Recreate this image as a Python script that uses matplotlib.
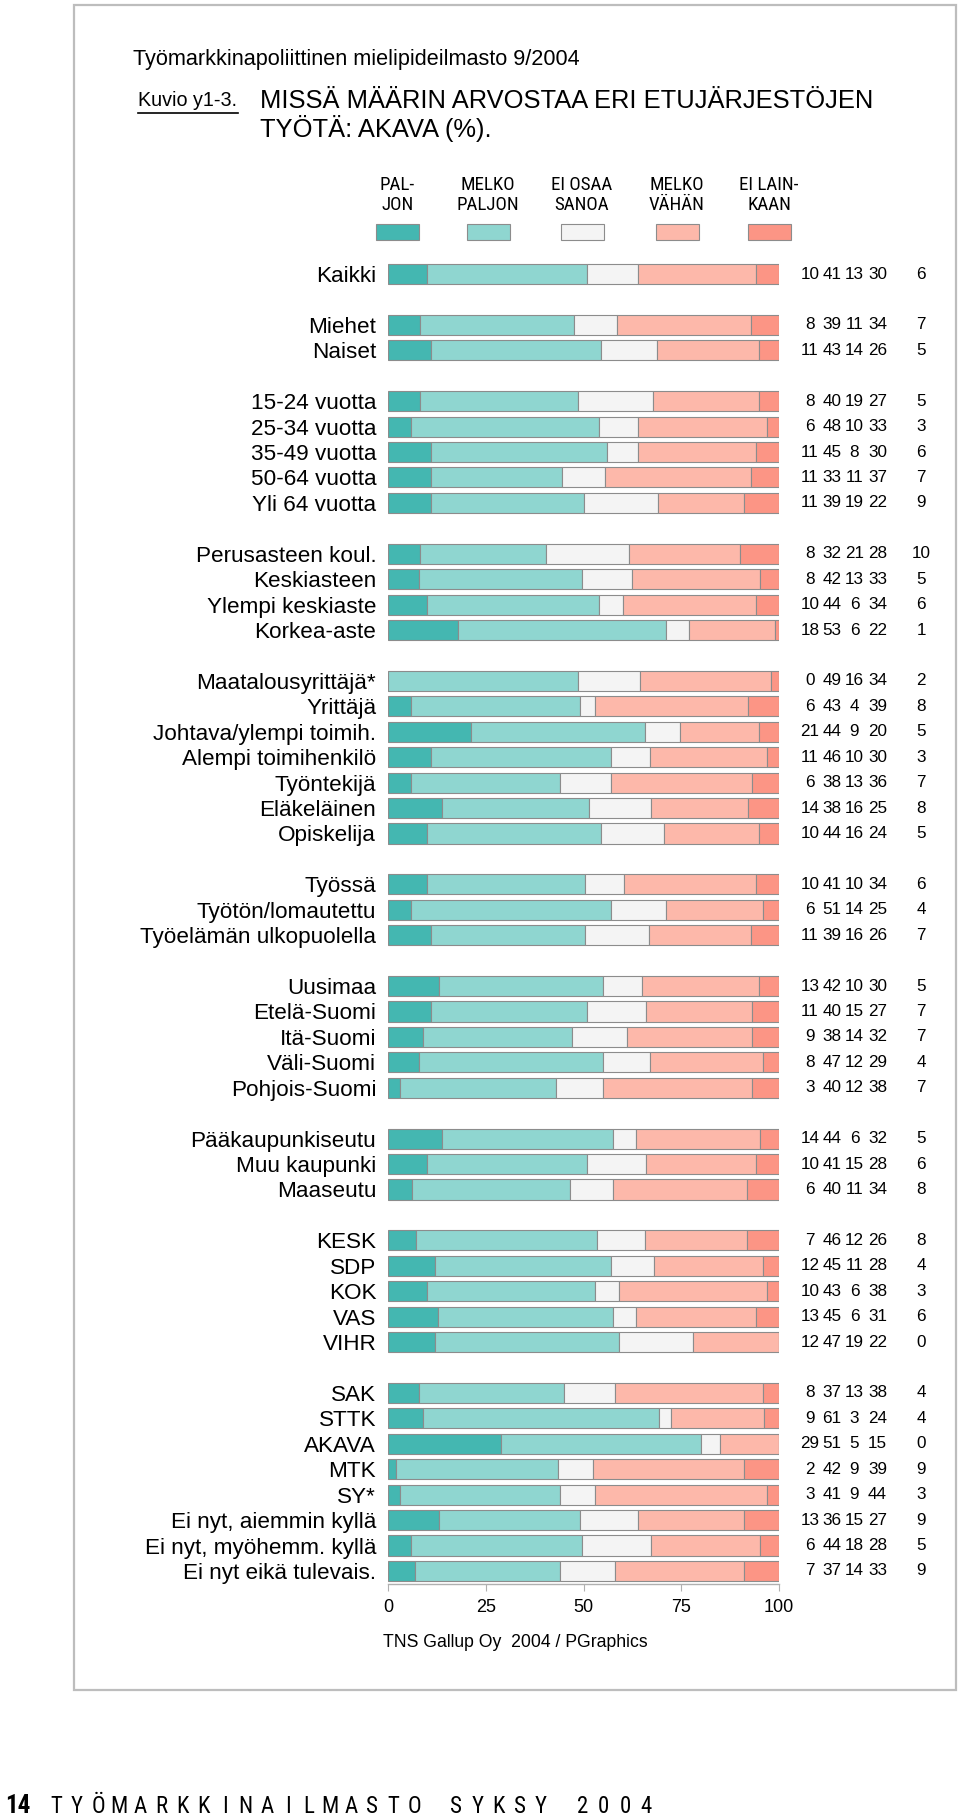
import matplotlib
matplotlib.use('Agg')
import matplotlib.pyplot as plt
from matplotlib import font_manager
from matplotlib.patches import Rectangle
from matplotlib.lines import Line2D
import numpy as np

# ---------------- data ----------------
labels = ["Kaikki",
          "Miehet", "Naiset",
          "15-24 vuotta", "25-34 vuotta", "35-49 vuotta", "50-64 vuotta", "Yli 64 vuotta",
          "Perusasteen koul.", "Keskiasteen", "Ylempi keskiaste", "Korkea-aste",
          "Maatalousyrittäjä*", "Yrittäjä", "Johtava/ylempi toimih.", "Alempi toimihenkilö",
          "Työntekijä", "Eläkeläinen", "Opiskelija",
          "Työssä", "Työtön/lomautettu", "Työelämän ulkopuolella",
          "Uusimaa", "Etelä-Suomi", "Itä-Suomi", "Väli-Suomi", "Pohjois-Suomi",
          "Pääkaupunkiseutu", "Muu kaupunki", "Maaseutu",
          "KESK", "SDP", "KOK", "VAS", "VIHR",
          "SAK", "STTK", "AKAVA", "MTK", "SY*", "Ei nyt, aiemmin kyllä",
          "Ei nyt, myöhemm. kyllä", "Ei nyt eikä tulevais."]
group_sizes = [1, 2, 5, 4, 7, 3, 5, 3, 5, 8]

paljon       = [10, 8, 11, 8, 6, 11, 11, 11, 8, 8, 10, 18, 0, 6, 21, 11, 6, 14, 10,
                10, 6, 11, 13, 11, 9, 8, 3, 14, 10, 6, 7, 12, 10, 13, 12,
                8, 9, 29, 2, 3, 13, 6, 7]
melko_paljon = [41, 39, 43, 40, 48, 45, 33, 39, 32, 42, 44, 53, 49, 43, 44, 46, 38, 38, 44,
                41, 51, 39, 42, 40, 38, 47, 40, 44, 41, 40, 46, 45, 43, 45, 47,
                37, 61, 51, 42, 41, 36, 44, 37]
ei_osaa      = [13, 11, 14, 19, 10, 8, 11, 19, 21, 13, 6, 6, 16, 4, 9, 10, 13, 16, 16,
                10, 14, 16, 10, 15, 14, 12, 12, 6, 15, 11, 12, 11, 6, 6, 19,
                13, 3, 5, 9, 9, 15, 18, 14]
melko_vahan  = [30, 34, 26, 27, 33, 30, 37, 22, 28, 33, 34, 22, 34, 39, 20, 30, 36, 25, 24,
                34, 25, 26, 30, 27, 32, 29, 38, 32, 28, 34, 26, 28, 38, 31, 22,
                38, 24, 15, 39, 44, 27, 28, 33]
ei_lainkaan  = [6, 7, 5, 5, 3, 6, 7, 9, 10, 5, 6, 1, 2, 8, 5, 3, 7, 8, 5,
                6, 4, 7, 5, 7, 7, 4, 7, 5, 6, 8, 8, 4, 3, 6, 0,
                4, 4, 0, 9, 3, 9, 5, 9]

series_names = ["PAL-\nJON", "MELKO\nPALJON", "EI OSAA\nSANOA", "MELKO\nVÄHÄN", "EI LAIN-\nKAAN"]
xticks = [0, 25, 50, 75, 100]

colors = ['#44b7b1', '#8fd6d0', '#f4f4f4', '#fdb8aa', '#fc9585']
edge = '#8c8c8c'

# ---------------- fonts ----------------
ttf = font_manager.fontManager.ttflist
avail = {f.name for f in ttf}
MAIN = 'Liberation Sans' if 'Liberation Sans' in avail else 'DejaVu Sans'
NARROW = None
for c in ['Liberation Sans Narrow', 'Arial Narrow', 'Roboto Condensed',
          'Open Sans Condensed', 'Noto Sans Condensed', 'DejaVu Sans Condensed']:
    if c in avail:
        NARROW = dict(family=c)
        break
if NARROW is None:
    conds = [f for f in ttf if str(f.stretch) in ('condensed', 'semi-condensed')
             and f.style == 'normal' and str(f.weight) in ('400', 'normal', 'regular', 'book')]
    for pref in ['Liberation Sans', 'Noto Sans', 'Roboto', 'Open Sans', 'DejaVu Sans', 'Lato', 'Inter']:
        m = [f for f in conds if f.name == pref]
        if m:
            NARROW = dict(family=m[0].name, stretch=m[0].stretch)
            break
if NARROW is None:
    NARROW = dict(family=MAIN)
plt.rcParams['font.family'] = [MAIN, 'DejaVu Sans']

W, H = 960, 1817
fig = plt.figure(figsize=(W / 100, H / 100), dpi=100)
renderer = fig.canvas.get_renderer()


def fit_size(text, target_px, base=14.0, maxsize=16.0, **kw):
    t = fig.text(0, 0, text, fontsize=base, **kw)
    w = t.get_window_extent(renderer=renderer).width
    t.remove()
    return min(maxsize, base * target_px / w)


def fx(px):
    return px / W


def fy(py):
    return 1 - py / H


# ---------------- row positions ----------------
pos = []
r = 0
for gi, n in enumerate(group_sizes):
    for k in range(n):
        pos.append(r)
        r += 1
    r += 1
pos = np.array(pos, dtype=float)
last = pos[-1]

slot = 25.43
top_px = 274 - 0.5 * slot
ymax = last + 0.51
bot_px = 274 + ymax * slot
ax_left, ax_right = 388, 779
ax = fig.add_axes([fx(ax_left), fy(bot_px), (ax_right - ax_left) / W, (bot_px - top_px) / H])

data = np.array([paljon, melko_paljon, ei_osaa, melko_vahan, ei_lainkaan], dtype=float)
totals = data.sum(axis=0)
norm = data / totals * 100
left = np.zeros(len(labels))
for i in range(5):
    ax.barh(pos, norm[i], left=left, height=0.79, color=colors[i],
            edgecolor=edge, linewidth=0.8)
    left += norm[i]

ax.set_xlim(0, 100)
ax.set_ylim(ymax, -0.5)
for s in ['top', 'right', 'left']:
    ax.spines[s].set_visible(False)
ax.spines['bottom'].set_color('#b0b0b0')
ax.spines['bottom'].set_linewidth(1.0)
ax.set_xticks(xticks)
ax.set_xticklabels([str(t) for t in xticks], fontsize=13)
ax.tick_params(axis='x', length=5, color='#b0b0b0', pad=6)
ax.set_yticks(pos)
ax.set_yticklabels(labels, fontsize=16.2)
ax.tick_params(axis='y', length=0, pad=8.5)

# value columns
col_px = [810, 832, 854.5, 877.5, 921]
tr = ax.get_yaxis_transform()
for j, y in enumerate(pos):
    for i in range(5):
        xa = (col_px[i] - ax_left) / (ax_right - ax_left)
        ax.text(xa, y, str(int(data[i, j])), transform=tr, ha='center', va='center',
                fontsize=12.3, clip_on=False)

# ---------------- header ----------------
fig.text(fx(133), fy(59), "Työmarkkinapoliittinen mielipideilmasto 9/2004",
         fontsize=15.6, ha='left', va='center')
fig.text(fx(138), fy(101), "Kuvio y1-3.", fontsize=14.2, ha='left', va='center')
fig.add_artist(Line2D([fx(138), fx(238)], [fy(113), fy(113)], color='black', lw=1.2))
fig.text(fx(260), fy(101), "MISSÄ MÄÄRIN ARVOSTAA ERI ETUJÄRJESTÖJEN",
         fontsize=18.4, ha='left', va='center')
fig.text(fx(260), fy(128), "TYÖTÄ: AKAVA (%).", fontsize=18.4, ha='left', va='center')

# legend
leg_size = fit_size("PALJON", 63, base=14.0, maxsize=15.0, **NARROW)
leg_x = [397.5, 488, 582, 677, 769]
for i in range(5):
    l1, l2 = series_names[i].split('\n')
    fig.text(fx(leg_x[i]), fy(185), l1, ha='center', va='center', fontsize=leg_size, **NARROW)
    fig.text(fx(leg_x[i]), fy(205), l2, ha='center', va='center', fontsize=leg_size, **NARROW)
    fig.add_artist(Rectangle((fx(leg_x[i] - 21.5), fy(240)), 43 / W, 16 / H,
                             facecolor=colors[i], edgecolor=edge, linewidth=0.8,
                             transform=fig.transFigure))

# source
fig.text(fx(383), fy(1642), "TNS Gallup Oy  2004 / PGraphics", fontsize=12.7,
         ha='left', va='center')

# frame
fig.add_artist(Rectangle((fx(74), fy(1690)), (956 - 74) / W, (1690 - 5) / H,
                         facecolor='none', edgecolor='#bdbdbd', linewidth=1.6,
                         transform=fig.transFigure))

# footer
num_size = fit_size("14", 29, base=16.0, maxsize=18.0, fontweight='bold', **NARROW)
fig.text(fx(5), fy(1806), "14", fontsize=num_size, fontweight='bold', ha='left',
         va='center', **NARROW)
footer = "TYÖMARKKINAILMASTO SYKSY 2004"
x0, x1 = 56, 646
step = (x1 - x0) / (len(footer) - 1)
for k, ch in enumerate(footer):
    if ch != ' ':
        fig.text(fx(x0 + step * k), fy(1806), ch, fontsize=16.5, ha='center',
                 va='center', **NARROW)

fig.savefig('out.png', dpi=100, facecolor='white')
